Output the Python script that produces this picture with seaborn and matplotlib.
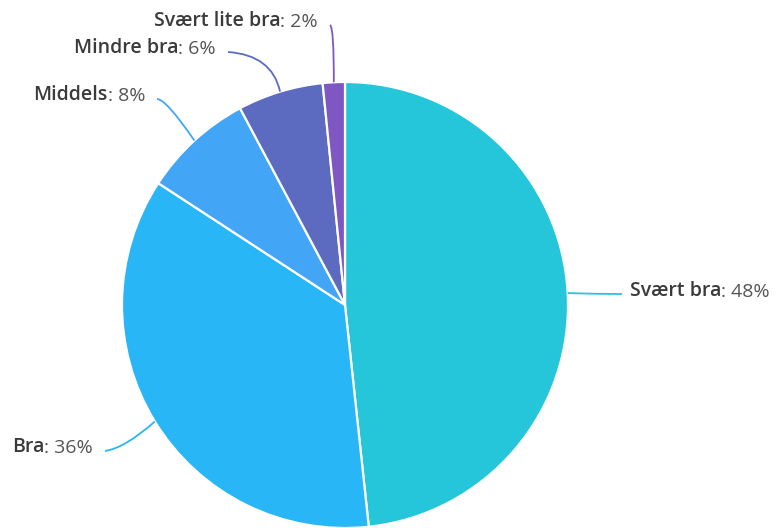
import numpy as np
import matplotlib
matplotlib.use("Agg")
import matplotlib.pyplot as plt
from matplotlib.path import Path
from matplotlib.patches import PathPatch
import seaborn as sns

# Data (share of answers, clockwise from 12 o'clock)
categories = ["Svært bra", "Bra", "Middels", "Mindre bra", "Svært lite bra"]
shares     = [48.3, 35.9, 8.0, 6.2, 1.6]
pct_labels = ["48%", "36%", "8%", "6%", "2%"]
colors     = ["#26C6DA", "#29B6F6", "#42A5F5", "#5C6BC0", "#7E57C2"]

# Layout in pixel units (y measured from the top of the image)
W, H = 776, 528
CENTER = (345, 305)
RADIUS = 223
# where each connector ends / label sits, and the bend point of the connector
label_end  = [(622, 294), (105, 451), (157, 99), (228, 52), (330, 25)]
label_ctrl = [(596, 294), (125, 448), (166, 99), (272, 55), (334, 27)]
label_side = ["left", "right", "right", "right", "right"]
FS = 14

sns.set_theme(style="white")
plt.rcParams["font.family"] = ["Open Sans", "DejaVu Sans"]

fig = plt.figure(figsize=(W / 100, H / 100), dpi=100)
ax = fig.add_axes([0, 0, 1, 1])


def flip(p):
    return (p[0], H - p[1])


wedges, _ = ax.pie(shares, colors=colors, startangle=90, counterclock=False,
                   center=flip(CENTER), radius=RADIUS,
                   wedgeprops=dict(edgecolor="white", linewidth=1.6))

# pie() resets the limits, so put the pixel frame back afterwards
ax.set_xlim(0, W)
ax.set_ylim(0, H)
ax.set_aspect("equal")
ax.axis("off")

for i, w in enumerate(wedges):
    mid = np.deg2rad((w.theta1 + w.theta2) / 2)
    cx, cy = flip(CENTER)
    start = (cx + RADIUS * np.cos(mid), cy + RADIUS * np.sin(mid))
    path = Path([start, flip(label_ctrl[i]), flip(label_end[i])],
                [Path.MOVETO, Path.CURVE3, Path.CURVE3])
    ax.add_patch(PathPatch(path, facecolor="none", edgecolor=colors[i], lw=1.3))

    ex, ey = flip(label_end[i])
    ty = ey + 3
    if label_side[i] == "left":
        t = ax.text(ex + 8, ty, categories[i], ha="left", va="center",
                    fontsize=FS, fontweight="semibold", color="#3a3a3a")
        ax.annotate(": " + pct_labels[i], xy=(1, 0), xycoords=t, ha="left", va="bottom",
                    fontsize=FS, color="#555555")
    else:
        t = ax.text(ex - 12, ty, ": " + pct_labels[i], ha="right", va="center",
                    fontsize=FS, color="#555555")
        ax.annotate(categories[i], xy=(0, 0), xycoords=t, ha="right", va="bottom",
                    fontsize=FS, fontweight="semibold", color="#3a3a3a")

fig.savefig("out.png", dpi=100, facecolor="white")
